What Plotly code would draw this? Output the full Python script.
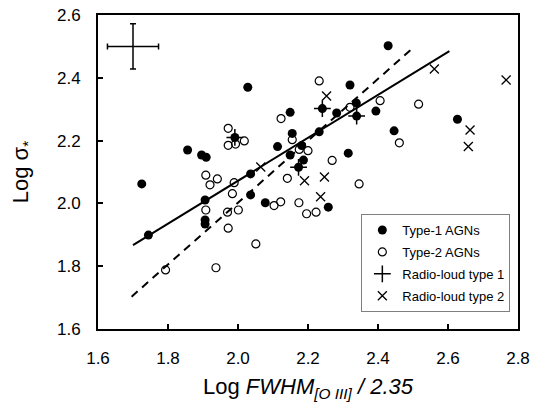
import plotly.graph_objects as go

# ---- data ----
type1_x = [1.725, 1.744, 1.856, 1.896, 1.909, 1.906, 1.906, 1.906, 1.991, 2.028,
           2.036, 2.036, 2.078, 2.113, 2.149, 2.155, 2.149, 2.187, 2.173, 2.182,
           2.232, 2.241, 2.282, 2.338, 2.339, 2.320, 2.315, 2.258, 2.394, 2.429,
           2.446, 2.627]
type1_y = [2.062, 1.899, 2.170, 2.154, 2.147, 2.011, 1.947, 1.934, 2.210, 2.370,
           2.094, 2.027, 2.002, 2.181, 2.290, 2.223, 2.154, 2.138, 2.115, 2.184,
           2.228, 2.302, 2.288, 2.320, 2.278, 2.377, 2.160, 1.988, 2.294, 2.502,
           2.231, 2.268]

type2_x = [1.793, 1.937, 2.051, 1.908, 1.920, 1.941, 1.908, 1.989, 1.984, 1.970,
           2.001, 1.972, 1.972, 1.972, 1.993, 2.018, 2.123, 2.155, 2.103, 2.122,
           2.141, 2.174, 2.196, 2.223, 2.175, 2.200, 2.269, 2.232, 2.320,
           2.346, 2.406, 2.461, 2.516]
type2_y = [1.788, 1.795, 1.871, 2.090, 2.059, 2.078, 1.979, 2.066, 2.031, 1.972,
           1.979, 1.921, 2.239, 2.185, 2.189, 2.199, 2.270, 2.203, 1.993, 2.005,
           2.080, 2.002, 1.967, 1.972, 2.172, 2.168, 2.137, 2.390, 2.306,
           2.062, 2.327, 2.193, 2.316]

rl1_x = [1.991, 2.173, 2.241, 2.339]
rl1_y = [2.210, 2.115, 2.302, 2.278]

rl2_x = [2.065, 2.190, 2.247, 2.236, 2.253, 2.561, 2.766, 2.663, 2.658]
rl2_y = [2.116, 2.072, 2.084, 2.021, 2.342, 2.428, 2.393, 2.234, 2.181]

solid_x = [1.70, 2.604]
solid_y = [1.867, 2.485]
dash_x = [1.696, 2.504]
dash_y = [1.703, 2.499]

err_x = [1.70]
err_y = [2.50]
err_dx = 0.073
err_dy = 0.072

x_ticks = [1.6, 1.8, 2.0, 2.2, 2.4, 2.6, 2.8]
y_ticks = [1.6, 1.8, 2.0, 2.2, 2.4, 2.6]

FONT = "Arial, Liberation Sans, sans-serif"

fig = go.Figure()

fig.add_trace(go.Scatter(x=type2_x, y=type2_y, mode="markers", name="Type-2 AGNs",
                         legendgroup="b", legendrank=2,
                         marker=dict(symbol="circle-open", size=8, color="black",
                                     line=dict(width=1.2, color="black"))))
fig.add_trace(go.Scatter(x=type1_x, y=type1_y, mode="markers", name="Type-1 AGNs",
                         legendgroup="a", legendrank=1,
                         marker=dict(symbol="circle", size=9, color="black")))
fig.add_trace(go.Scatter(x=rl1_x, y=rl1_y, mode="markers", name="Radio-loud type 1",
                         legendgroup="c", legendrank=3,
                         marker=dict(symbol="cross-thin", size=12, color="black",
                                     line=dict(width=1.5, color="black"))))
fig.add_trace(go.Scatter(x=rl2_x, y=rl2_y, mode="markers", name="Radio-loud type 2",
                         legendgroup="d", legendrank=4,
                         marker=dict(symbol="x-thin", size=9, color="black",
                                     line=dict(width=1.3, color="black"))))

fig.add_trace(go.Scatter(x=solid_x, y=solid_y, mode="lines", showlegend=False,
                         line=dict(color="black", width=2)))
fig.add_trace(go.Scatter(x=dash_x, y=dash_y, mode="lines", showlegend=False,
                         line=dict(color="black", width=2, dash="8px,6px")))

fig.add_trace(go.Scatter(x=err_x, y=err_y, mode="markers", showlegend=False,
                         marker=dict(size=1, color="rgba(0,0,0,0)"),
                         error_x=dict(type="constant", value=err_dx, color="black",
                                      thickness=1.5, width=3),
                         error_y=dict(type="constant", value=err_dy, color="black",
                                      thickness=1.5, width=3)))

axis_common = dict(showgrid=False, zeroline=False, showline=True, linecolor="black",
                   linewidth=2, mirror=True, ticks="inside", ticklen=5, tickwidth=1.5,
                   tickcolor="black", tickformat=".1f", ticklabeloverflow="allow",
                   tickfont=dict(family=FONT, size=17, color="black"))

fig.update_xaxes(range=[1.6, 2.8], tickvals=x_ticks, ticklabelstandoff=13,
                 title=dict(text="Log <i>FWHM</i><sub><i>[O III]</i></sub><i> / 2.35</i>",
                            font=dict(family=FONT, size=22, color="black"), standoff=15),
                 **axis_common)
fig.update_yaxes(range=[1.6, 2.6], tickvals=y_ticks, ticklabelstandoff=12,
                 title=dict(text="Log σ<sub>*</sub>",
                            font=dict(family=FONT, size=22, color="black"), standoff=27),
                 **axis_common)

# page body has an 8px margin: figure is sized/offset to land in the 538x402 window
fig.update_layout(
    width=530, height=394,
    margin=dict(l=90, r=20, t=7, b=73, autoexpand=False),
    plot_bgcolor="white", paper_bgcolor="white",
    font=dict(family=FONT, color="black"),
    legend=dict(x=0.627, y=0.054, xanchor="left", yanchor="bottom",
                bgcolor="white", bordercolor="#7f7f7f", borderwidth=1,
                font=dict(family=FONT, size=13, color="black"),
                tracegroupgap=2, itemwidth=30),
)

fig.write_html("out.html")
